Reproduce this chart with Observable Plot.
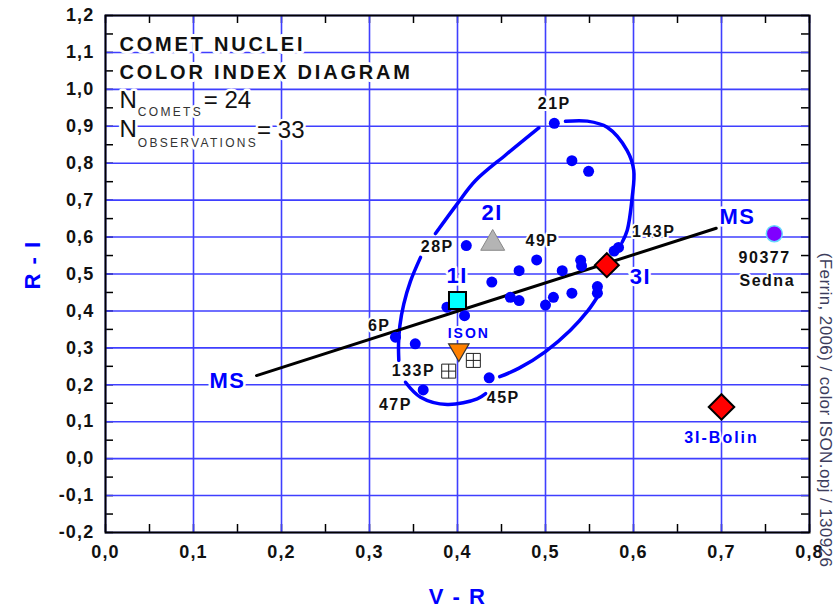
<!DOCTYPE html>
<html>
<head>
<meta charset="utf-8">
<script src="https://cdn.jsdelivr.net/npm/d3@7"></script>
<script src="https://cdn.jsdelivr.net/npm/@observablehq/plot@0.6"></script>
<style>
  body { margin: 0; background: #fff; }
  svg { display: block; }
</style>
</head>
<body>
<div id="chart"></div>
<script>
// Comet nuclei: V-R and R-I colour indices (blue dots)
const cometVR = [0.510, 0.530, 0.549, 0.410, 0.439, 0.408, 0.388, 0.578, 0.583, 0.540, 0.541, 0.490, 0.470,
                 0.519, 0.530, 0.509, 0.500, 0.559, 0.559, 0.460, 0.470, 0.3295, 0.352, 0.361, 0.436];
const cometRI = [0.908, 0.807, 0.778, 0.577, 0.478, 0.387, 0.410, 0.562, 0.572, 0.537, 0.522, 0.538, 0.509,
                 0.509, 0.448, 0.437, 0.416, 0.466, 0.448, 0.437, 0.428, 0.329, 0.311, 0.186, 0.219];

// Named comet labels
const cometLabelText = ["21P", "28P", "49P", "143P", "6P", "133P", "47P", "45P", "90377", "Sedna"];
const cometLabelVR   = [0.510, 0.377, 0.496, 0.623, 0.311, 0.350, 0.3295, 0.452, 0.749, 0.752];
const cometLabelRI   = [0.961, 0.574, 0.591, 0.613, 0.360, 0.237, 0.1465, 0.165, 0.545, 0.482];

// Interstellar objects, ISON, 133P and Sedna
const oumuamuaVR = [0.400],  oumuamuaRI = [0.428];   // 1I
const borisovVR  = [0.440],  borisovRI  = [0.583];   // 2I
const atlasVR    = [0.5697], atlasRI    = [0.524];   // 3I
const bolinVR    = [0.700],  bolinRI    = [0.140];   // 3I-Bolin
const isonVR     = [0.4015], isonRI     = [0.295];   // ISON
const p133VR     = [0.390, 0.418], p133RI = [0.237, 0.266];
const sednaVR    = [0.760],  sednaRI    = [0.609];

// Large blue labels
const bigLabelText = ["1I", "2I", "3I", "MS", "MS"];
const bigLabelVR   = [0.3996, 0.4394, 0.608, 0.1386, 0.7182];
const bigLabelRI   = [0.496, 0.664, 0.491, 0.2116, 0.6556];

// Smaller blue labels
const smallLabelText = ["ISON", "3I-Bolin"];
const smallLabelVR   = [0.4128, 0.700];
const smallLabelRI   = [0.338, 0.057];

// Mean solar-type colour line (MS)
const msVR = [0.1716, 0.694];
const msRI = [0.225, 0.624];

// Hand-drawn envelope around the comet nuclei, as separate strokes
const loopPieces = [
  [[0.4924, 0.8958], [0.455, 0.823], [0.4205, 0.753], [0.3997, 0.690], [0.375, 0.6095]],
  [[0.358, 0.545], [0.3465, 0.48], [0.339, 0.419], [0.3345, 0.36], [0.333, 0.31], [0.3333, 0.266]],
  [[0.3409, 0.2069], [0.358, 0.1663], [0.3883, 0.1465], [0.4224, 0.162], [0.432, 0.176]],
  [[0.448, 0.222], [0.47, 0.245], [0.50, 0.29], [0.528, 0.347], [0.548, 0.40], [0.5587, 0.437]],
  [[0.5227, 0.9136], [0.5475, 0.914], [0.5701, 0.8974], [0.5928, 0.8343], [0.6003, 0.7801],
   [0.5985, 0.7078], [0.5928, 0.6177], [0.5871, 0.586]]
];

// Axis ticks
const vrTicks = [0, 0.1, 0.2, 0.3, 0.4, 0.5, 0.6, 0.7, 0.8];
const vrMinor = [0.05, 0.15, 0.25, 0.35, 0.45, 0.55, 0.65, 0.75];
const riTicks = [-0.2, -0.1, 0, 0.1, 0.2, 0.3, 0.4, 0.5, 0.6, 0.7, 0.8, 0.9, 1.0, 1.1, 1.2];
const riMinor = [-0.15, -0.05, 0.05, 0.15, 0.25, 0.35, 0.45, 0.55, 0.65, 0.75, 0.85, 0.95, 1.05, 1.15];

// Header block
const titleLines = ["COMET NUCLEI", "COLOR INDEX DIAGRAM"];
const titleVR = [0.0159, 0.0159], titleRI = [1.1221, 1.0441];
const countN = ["N", "N"], countNVR = [0.0159, 0.0159], countNRI = [0.971, 0.891];
const countSub = ["COMETS", "OBSERVATIONS"], countSubVR = [0.0367, 0.0367], countSubRI = [0.938, 0.854];
const countVal = ["= 24", "= 33"], countValVR = [0.1116, 0.1723], countValRI = [0.9716, 0.888];

const sourceNote = "(Ferrin, 2006) / color ISON.opj / 130926";

const zip = (xs, ys, extra = {}) => xs.map((x, i) => ({x, y: ys[i], ...Object.fromEntries(Object.entries(extra).map(([k, v]) => [k, v[i]]))}));

const comets = zip(cometVR, cometRI);
const cometLabels = zip(cometLabelVR, cometLabelRI, {t: cometLabelText});
const bigLabels = zip(bigLabelVR, bigLabelRI, {t: bigLabelText});
const smallLabels = zip(smallLabelVR, smallLabelRI, {t: smallLabelText});
const loops = loopPieces.flatMap((piece, k) => piece.map(([x, y]) => ({x, y, k})));

const W = 836, H = 607;
const mL = 105, mR = 27, mT = 15, mB = 75;
const innerW = W - mL - mR, innerH = H - mT - mB;
const fmt = d => d.toFixed(1).replace(".", ",");
const grid = "#3f3fff";
const blue = "#0000ff";
const font = "'Liberation Sans', Arial, sans-serif";

const chart = Plot.plot({
  width: W, height: H,
  marginLeft: mL, marginRight: mR, marginTop: mT, marginBottom: mB,
  x: {domain: [0, 0.8]},
  y: {domain: [-0.2, 1.2]},
  style: {fontFamily: font, background: "white", overflow: "visible"},
  marks: [
    // inward ticks on all four sides
    Plot.tickX(vrTicks.concat(vrMinor), {x: d => d, insetTop: innerH - 8, stroke: "black", strokeWidth: 1.5}),
    Plot.tickX(vrTicks.concat(vrMinor), {x: d => d, insetBottom: innerH - 8, stroke: "black", strokeWidth: 1.5}),
    Plot.tickY(riTicks.concat(riMinor), {y: d => d, insetRight: innerW - 8, stroke: "black", strokeWidth: 1.5}),
    Plot.tickY(riTicks.concat(riMinor), {y: d => d, insetLeft: innerW - 8, stroke: "black", strokeWidth: 1.5}),
    // grid
    Plot.ruleX(vrTicks, {x: d => d, stroke: grid, strokeWidth: 1.6}),
    Plot.ruleY(riTicks, {y: d => d, stroke: grid, strokeWidth: 1.6}),
    Plot.frame({stroke: "black", strokeWidth: 2}),
    // axes
    Plot.axisX(vrTicks, {tickSize: 0, tickPadding: 13, tickFormat: fmt, fontSize: 18, fontWeight: "bold", label: null, fill: "#111"}),
    Plot.axisY(riTicks, {tickSize: 0, tickPadding: 11, tickFormat: fmt, fontSize: 18, fontWeight: "bold", label: null, fill: "#111"}),
    // envelope and MS line
    Plot.line(loops, {x: "x", y: "y", z: "k", stroke: blue, strokeWidth: 3.5, curve: "catmull-rom", strokeLinecap: "round"}),
    Plot.line(zip(msVR, msRI), {x: "x", y: "y", stroke: "black", strokeWidth: 3}),
    // comet nuclei
    Plot.dot(comets, {x: "x", y: "y", r: 5.5, fill: blue}),
    // 133P
    Plot.dot(zip(p133VR, p133RI), {x: "x", y: "y", symbol: "square", r: 7.9, fill: "white", stroke: "#222", strokeWidth: 1}),
    Plot.dot(zip(p133VR, p133RI), {x: "x", y: "y", symbol: "plus", r: 4.6, stroke: "#222", strokeWidth: 1}),
    // ISON
    Plot.dot(zip(isonVR, isonRI), {x: "x", y: "y", symbol: "triangle", rotate: 180, r: 7.6, fill: "#ff8000", stroke: "#333", strokeWidth: 1.2}),
    // 1I, 2I, 3I
    Plot.dot(zip(oumuamuaVR, oumuamuaRI), {x: "x", y: "y", symbol: "square", r: 9.6, fill: "#00ffff", stroke: "black", strokeWidth: 2}),
    Plot.dot(zip(borisovVR, borisovRI), {x: "x", y: "y", symbol: "triangle", r: 8.9, fill: "#b4b4b4", stroke: "#888", strokeWidth: 1}),
    Plot.dot(zip(atlasVR, atlasRI), {x: "x", y: "y", symbol: "diamond2", r: 10.8, fill: "#ff0000", stroke: "black", strokeWidth: 2}),
    Plot.dot(zip(bolinVR, bolinRI), {x: "x", y: "y", symbol: "diamond2", r: 11.5, fill: "#ff0000", stroke: "black", strokeWidth: 2}),
    // Sedna
    Plot.dot(zip(sednaVR, sednaRI), {x: "x", y: "y", r: 8, fill: "#7f00ff", stroke: "#66d9ff", strokeWidth: 1.5}),
    // labels
    Plot.text(cometLabels, {x: "x", y: "y", text: "t", fontSize: 16, fontWeight: "bold", fill: "#111",
      stroke: "white", strokeWidth: 4}),
    Plot.text(bigLabels, {x: "x", y: "y", text: "t", fontSize: 22, fontWeight: "bold", fill: blue,
      stroke: "white", strokeWidth: 5}),
    Plot.text(smallLabels, {x: "x", y: "y", text: "t", fontSize: d => d.t === "ISON" ? 14 : 16,
      fontWeight: "bold", fill: blue, textAnchor: d => d.t === "ISON" ? "start" : "middle",
      stroke: "white", strokeWidth: 4}),
    // header block
    Plot.text(zip(titleVR, titleRI, {t: titleLines}), {x: "x", y: "y", text: "t", textAnchor: "start",
      fontSize: 20, fontWeight: "bold", fill: "#111", stroke: "white", strokeWidth: 6}),
    Plot.text(zip(countNVR, countNRI, {t: countN}), {x: "x", y: "y", text: "t", textAnchor: "start",
      fontSize: 24, fill: "#111", stroke: "white", strokeWidth: 5}),
    Plot.text(zip(countSubVR, countSubRI, {t: countSub}), {x: "x", y: "y", text: "t", textAnchor: "start",
      fontSize: 12, fill: "#333", stroke: "white", strokeWidth: 5}),
    Plot.text(zip(countValVR, countValRI, {t: countVal}), {x: "x", y: "y", text: "t", textAnchor: "start",
      fontSize: 24, fill: "#111", stroke: "white", strokeWidth: 5}),
    // axis titles and source note
    Plot.text(["V - R"], {frameAnchor: "bottom", dy: 71, text: d => d, textAnchor: "middle",
      fontSize: 22, fontWeight: "bold", fill: blue}),
    Plot.text(["R - I"], {frameAnchor: "left", dx: -73, dy: -9, rotate: -90, text: d => d, textAnchor: "middle",
      fontSize: 22, fontWeight: "bold", fill: blue}),
    Plot.text([sourceNote], {frameAnchor: "right", dx: 16, dy: 136, rotate: 90, text: d => d, textAnchor: "middle",
      fontSize: 17, fill: "#3d3d5c"})
  ]
});

// Letter spacing (the text mark has no option for it), keyed by label text
const spacing = new Map();
vrTicks.concat(riTicks).forEach(v => spacing.set(fmt(v), 1.2));
titleLines.forEach(t => spacing.set(t, 2.8));
countSub.forEach(t => spacing.set(t, 2.3));
cometLabelText.forEach(t => spacing.set(t, 1.5));
bigLabelText.forEach(t => spacing.set(t, 1.5));
smallLabelText.forEach(t => spacing.set(t, 2));
["V - R", "R - I"].forEach(t => spacing.set(t, 1.5));
spacing.set(sourceNote, 0.4);
d3.select(chart).selectAll("text").each(function() {
  const s = spacing.get(this.textContent);
  if (s != null) this.style.letterSpacing = s + "px";
});

document.getElementById("chart").append(chart);
</script>
</body>
</html>
